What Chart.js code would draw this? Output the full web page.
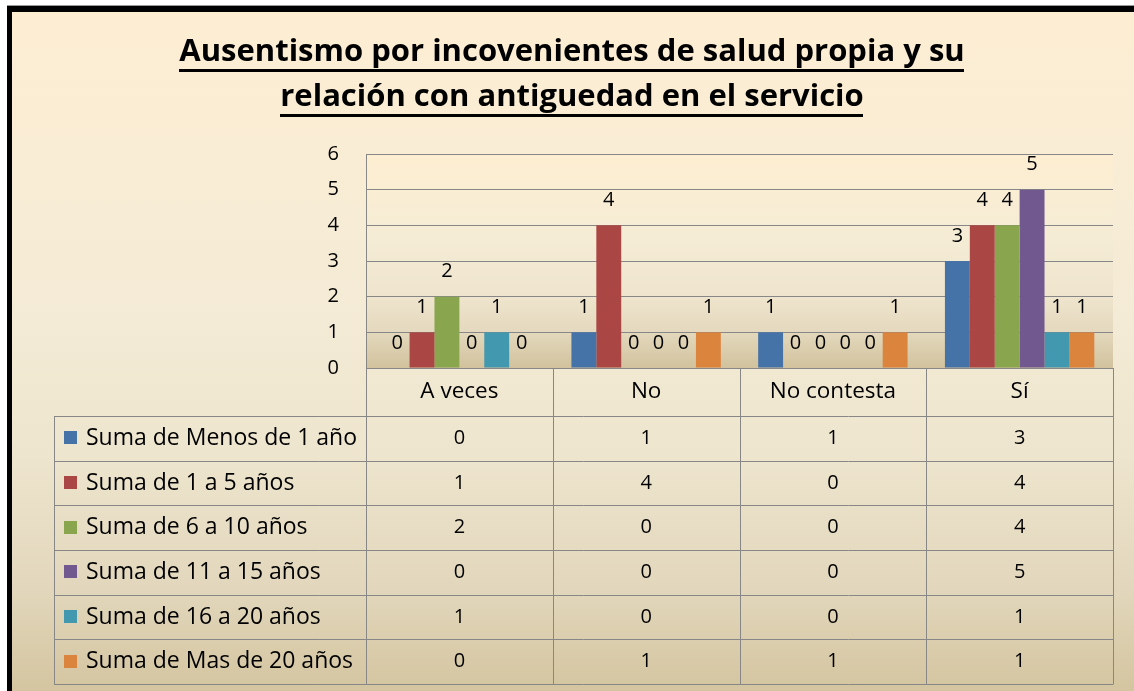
<!DOCTYPE html>
<html><head><meta charset="utf-8">
<script src="https://cdn.jsdelivr.net/npm/chart.js@4.4.0/dist/chart.umd.min.js"></script>
<style>html,body{margin:0;padding:0;background:#fff;overflow:hidden}canvas{display:block}</style>
</head><body>
<canvas id="c" width="1134" height="691"></canvas>
<script>
const titleLines = ['Ausentismo por incovenientes de salud propia y su', 'relación con antiguedad en el servicio'];
const categories = ['A veces', 'No', 'No contesta', 'Sí'];
const seriesNames = ['Suma de Menos de 1 año', 'Suma de 1 a 5 años', 'Suma de 6 a 10 años', 'Suma de 11 a 15 años', 'Suma de 16 a 20 años', 'Suma de Mas de 20 años'];
const menosDe1 = [0, 1, 1, 3];
const de1a5 = [1, 4, 0, 4];
const de6a10 = [2, 0, 0, 4];
const de11a15 = [0, 0, 0, 5];
const de16a20 = [1, 0, 0, 1];
const masDe20 = [0, 1, 1, 1];
const yTicks = [0, 1, 2, 3, 4, 5, 6];
const seriesValues = [menosDe1, de1a5, de6a10, de11a15, de16a20, masDe20];
const seriesColors = ['#4572A7', '#AA4643', '#89A54E', '#71588F', '#4198AF', '#DB843D'];

const FONT = '"Open Sans", Lato, sans-serif';
const GRID = '#878787';
const TITLE_SIZE = 31, TITLE_PAD_TOP = 30, TITLE_LH = 45;
const HEADER_H = 48, ROW_H = 44.67, LEGEND_LEFT = 54;

const bgPlugin = {
  id: 'bg',
  beforeDraw(chart) {
    const ctx = chart.ctx, W = chart.width, H = chart.height, ca = chart.chartArea;
    ctx.save();
    ctx.fillStyle = '#fff'; ctx.fillRect(0, 0, W, H);
    let g = ctx.createLinearGradient(0, 12, 0, H);
    g.addColorStop(0, '#fdeed3');
    g.addColorStop(0.45, '#f4ebd6');
    g.addColorStop(0.65, '#eee5ce');
    g.addColorStop(0.85, '#e2d7bc');
    g.addColorStop(1, '#d4c5a0');
    ctx.fillStyle = g; ctx.fillRect(12, 12, W - 12, H - 12);
    ctx.fillStyle = '#999'; ctx.fillRect(7, 5, W - 7, 1);
    ctx.fillStyle = '#000';
    ctx.fillRect(7, 6, W - 7, 6);
    ctx.fillRect(7, 6, 5, H - 6);
    g = ctx.createLinearGradient(0, ca.top, 0, ca.bottom);
    g.addColorStop(0, '#fdeed1');
    g.addColorStop(0.4, '#f5ecd6');
    g.addColorStop(0.66, '#efe5ce');
    g.addColorStop(0.83, '#e4d9be');
    g.addColorStop(1, '#d2c29d');
    ctx.fillStyle = g; ctx.fillRect(ca.left, ca.top, ca.right - ca.left, ca.bottom - ca.top);
    ctx.restore();
  }
};

const underlinePlugin = {
  id: 'underline',
  afterDraw(chart) {
    const ctx = chart.ctx, t = chart.titleBlock;
    const cx = (t.left + t.right) / 2;
    ctx.save();
    ctx.font = 'bold ' + TITLE_SIZE + 'px ' + FONT;
    ctx.fillStyle = '#000';
    titleLines.forEach((line, i) => {
      const w = ctx.measureText(line).width;
      const cy = t.top + TITLE_PAD_TOP + TITLE_LH / 2 + i * TITLE_LH;
      ctx.fillRect(Math.round(cx - w / 2), Math.round(cy + 16), Math.round(w), 3);
    });
    ctx.restore();
  }
};

const labelPlugin = {
  id: 'vlabels',
  afterDatasetsDraw(chart) {
    const ctx = chart.ctx;
    ctx.save();
    ctx.font = '20px ' + FONT;
    ctx.fillStyle = '#000';
    ctx.textAlign = 'center';
    ctx.textBaseline = 'middle';
    chart.data.datasets.forEach((ds, i) => {
      chart.getDatasetMeta(i).data.forEach((el, j) => {
        ctx.fillText(String(ds.data[j]), el.x, el.y - 25);
      });
    });
    ctx.restore();
  }
};

const tablePlugin = {
  id: 'datatable',
  afterDraw(chart) {
    const ctx = chart.ctx, ca = chart.chartArea, xs = chart.scales.x;
    const n = categories.length;
    const colW = (ca.right - ca.left) / n;
    const top = ca.bottom;
    const rowsTop = top + HEADER_H;
    const bottom = rowsTop + ROW_H * seriesNames.length;
    ctx.save();
    ctx.strokeStyle = GRID; ctx.lineWidth = 1;
    ctx.beginPath();
    for (let i = 0; i <= n; i++) {
      const x = Math.round(ca.left + i * colW) + 0.5;
      ctx.moveTo(x, top); ctx.lineTo(x, bottom);
    }
    ctx.moveTo(LEGEND_LEFT + 0.5, rowsTop); ctx.lineTo(LEGEND_LEFT + 0.5, bottom);
    for (let r = 0; r <= seriesNames.length; r++) {
      const y = Math.round(rowsTop + r * ROW_H) + 0.5;
      ctx.moveTo(LEGEND_LEFT, y); ctx.lineTo(ca.right + 0.5, y);
    }
    ctx.stroke();
    ctx.fillStyle = '#000';
    ctx.textBaseline = 'middle';
    ctx.textAlign = 'center';
    ctx.font = '22.5px ' + FONT;
    categories.forEach((c, i) => {
      ctx.fillText(c, xs.getPixelForValue(i), top + HEADER_H / 2);
    });
    seriesNames.forEach((name, r) => {
      const cy = rowsTop + r * ROW_H + ROW_H / 2;
      ctx.fillStyle = seriesColors[r];
      ctx.fillRect(LEGEND_LEFT + 10, Math.round(cy - 7), 13, 13);
      ctx.fillStyle = '#000';
      ctx.textAlign = 'left';
      ctx.font = '23px ' + FONT;
      ctx.fillText(name, LEGEND_LEFT + 32, cy);
      ctx.textAlign = 'center';
      ctx.font = '20px ' + FONT;
      seriesValues[r].forEach((v, i) => {
        ctx.fillText(String(v), xs.getPixelForValue(i), cy);
      });
    });
    ctx.restore();
  }
};

new Chart(document.getElementById('c'), {
  type: 'bar',
  data: {
    labels: categories,
    datasets: seriesNames.map((name, i) => ({
      label: name,
      data: seriesValues[i],
      backgroundColor: seriesColors[i],
      borderWidth: 0,
      categoryPercentage: 0.8,
      barPercentage: 1.0
    }))
  },
  options: {
    responsive: false,
    animation: false,
    devicePixelRatio: 1,
    layout: { padding: { left: 31, right: 21, top: 0, bottom: 323 } },
    plugins: {
      legend: { display: false },
      tooltip: { enabled: false },
      title: {
        display: true,
        text: titleLines,
        color: '#000',
        font: { family: FONT, size: TITLE_SIZE, weight: 'bold', lineHeight: TITLE_LH / TITLE_SIZE },
        padding: { top: TITLE_PAD_TOP, bottom: 34 }
      }
    },
    scales: {
      x: { display: false },
      y: {
        min: yTicks[0],
        max: yTicks[yTicks.length - 1],
        afterFit(axis) { axis.width = 335; },
        afterBuildTicks(axis) { axis.ticks = yTicks.map(v => ({ value: v })); },
        ticks: { stepSize: 1, padding: 27, color: '#000', font: { family: FONT, size: 20 } },
        grid: { color: GRID, lineWidth: 1, drawTicks: false },
        border: { display: true, color: GRID, width: 1 }
      }
    }
  },
  plugins: [bgPlugin, underlinePlugin, labelPlugin, tablePlugin]
});
</script>
</body></html>
